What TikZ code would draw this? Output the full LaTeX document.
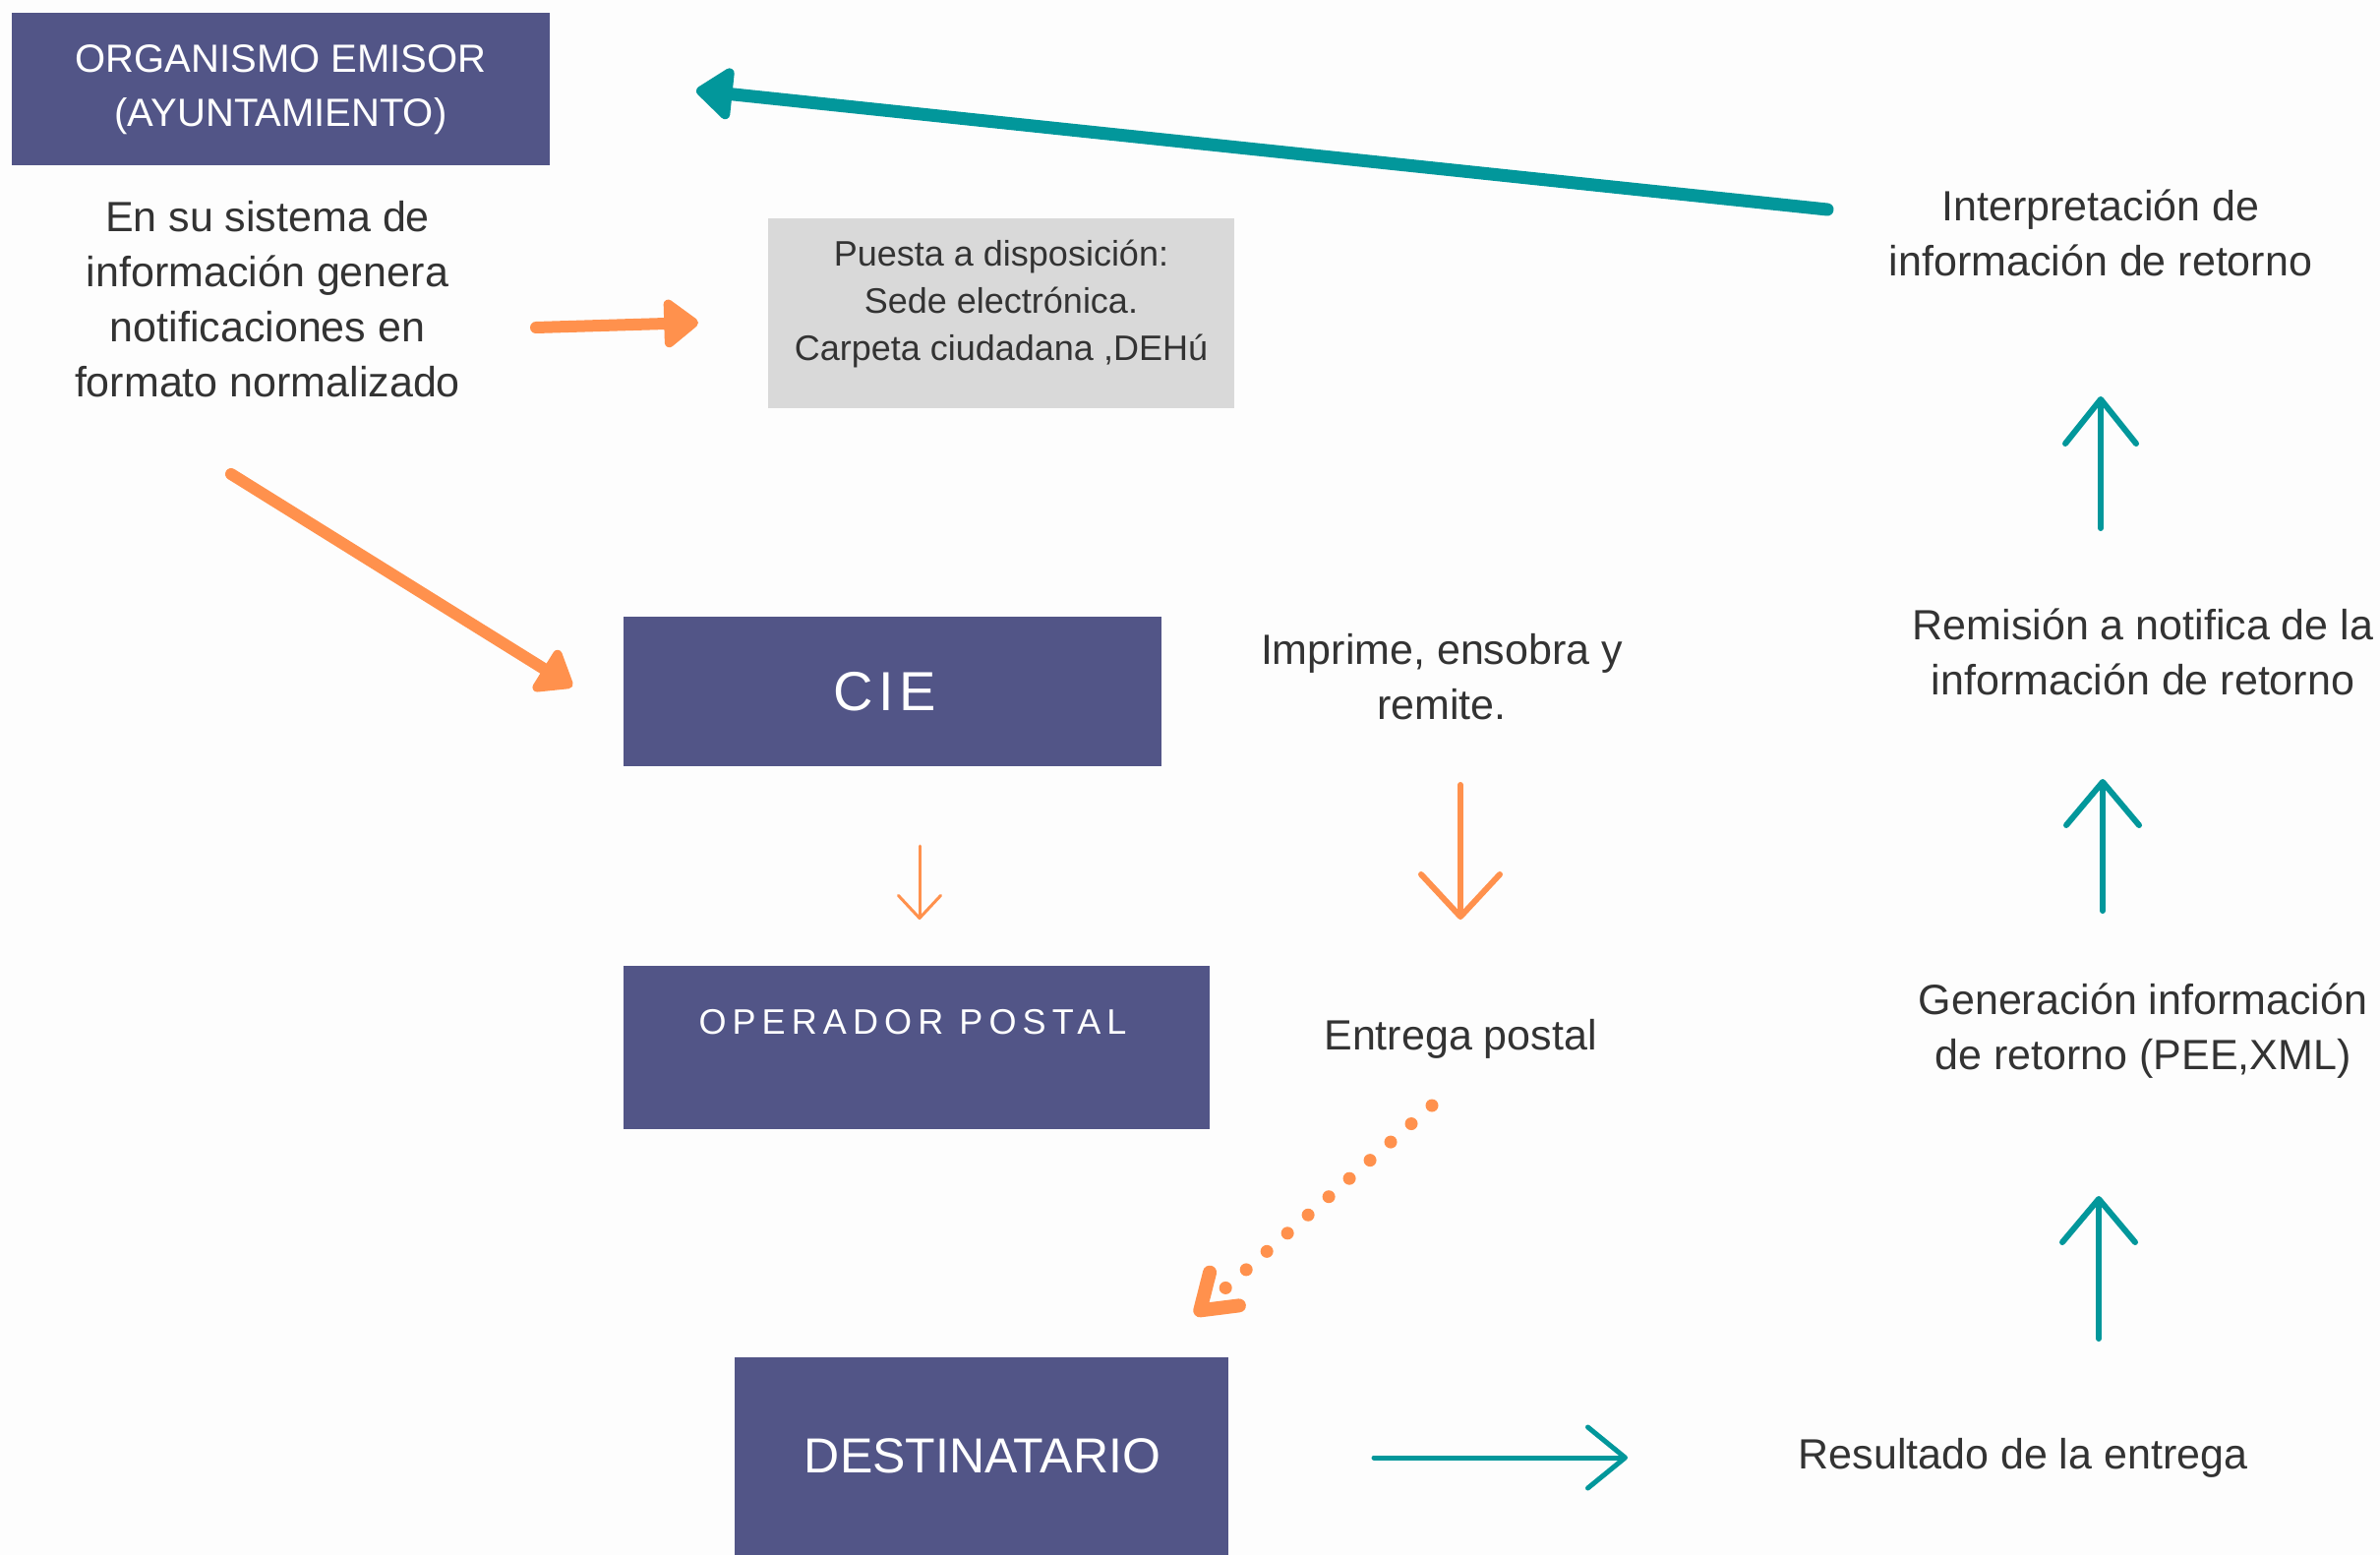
\documentclass[tikz,border=0pt]{standalone}
\usepackage{fontspec}
\setmainfont{Liberation Sans}
\newfontfamily\spacedfont{Liberation Sans}[LetterSpace=17]
\newfontfamily\ciefont{Liberation Sans}[LetterSpace=10]
\usetikzlibrary{arrows.meta}
\definecolor{boxblue}{HTML}{525587}
\definecolor{teal1}{HTML}{02979B}
\definecolor{orange1}{HTML}{FF914D}
\definecolor{graybox}{HTML}{D9D9D9}
\definecolor{txt}{HTML}{333333}
\definecolor{bg}{HTML}{FDFDFD}
\tikzset{
  bluebox/.style={fill=boxblue, text=white, inner sep=0pt},
  bodytext/.style={text=txt, align=center, inner sep=0pt, font=\fontsize{43}{56}\selectfont},
  bigtri/.style={line width=13pt, line cap=round, -{Triangle[length=40pt,width=60pt,round]}},
  orangetri/.style={orange1, line width=12pt, line cap=round, -{Triangle[length=38pt,width=56pt,round]}},
  barb/.style={line cap=round, -{Straight Barb[length=#1,round]}},
}
\begin{document}
\begin{tikzpicture}[x=1pt,y=-1pt]
\fill[bg] (0,0) rectangle (2420,1581);
\useasboundingbox (0,0) rectangle (2420,1581);

% boxes
\node[bluebox, minimum width=547pt, minimum height=155pt, align=center,
  font=\fontsize{40}{55}\selectfont] (org) at (285.5,91) {ORGANISMO EMISOR\\(AYUNTAMIENTO)};
\node[fill=graybox, minimum width=474pt, minimum height=193pt, inner sep=0pt] (gray) at (1018,318.5) {};
\node[text=txt, align=center, inner sep=0pt, font=\fontsize{36}{48}\selectfont] (graytxt) at (1018,309)
  {Puesta a disposición:\\Sede electrónica.\\Carpeta ciudadana ,DEHú};
\node[bluebox, minimum width=547pt, minimum height=152pt] (cie) at (907.5,703) {};
\node[text=white, inner sep=0pt, font=\ciefont\fontsize{56}{60}\selectfont] (cietxt) at (900,703) {CIE};
\node[bluebox, minimum width=596pt, minimum height=166pt] (op) at (932,1065) {};
\node[text=white, inner sep=0pt, font=\spacedfont\fontsize{36}{40}\selectfont] (optxt) at (928,1039) {OPERADOR POSTAL};
\node[bluebox, minimum width=502pt, minimum height=201pt] (dest) at (998,1480.5) {};
\node[text=white, inner sep=0pt, font=\fontsize{50}{55}\selectfont] (desttxt) at (999,1480) {DESTINATARIO};

% texts
\node[bodytext] (sist) at (272,304) {En su sistema de\\información genera\\notificaciones en\\formato normalizado};
\node[bodytext] (interp) at (2136,237) {Interpretación de\\información de retorno};
\node[bodytext] (remis) at (2179,663) {Remisión a notifica de la\\información de retorno};
\node[bodytext] (gener) at (2179,1048) {Generación información\\de retorno (PEE,XML)};
\node[bodytext] (result) at (2057,1482) {Resultado de la entrega};
\node[bodytext] (impr) at (1466,688) {Imprime, ensobra y\\remite.};
\node[bodytext] (entr) at (1485,1056) {Entrega postal};

% connector end points
\coordinate (tA1) at (1858,213); \coordinate (tA2) at (708,92);
\coordinate (oA1) at (545,333); \coordinate (oA2) at (710,328);
\coordinate (oB1) at (235,482); \coordinate (oB2) at (582,698);
\coordinate (oC1) at (935,860); \coordinate (oC2) at (935,935);
\coordinate (oD1) at (1485,798); \coordinate (oD2) at (1485,935);
\coordinate (oE1) at (1456,1124); \coordinate (oE2) at (1215,1337);
\coordinate (tB1) at (1397,1482); \coordinate (tB2) at (1655,1482);
\coordinate (tC1) at (2134,1361); \coordinate (tC2) at (2134,1216);
\coordinate (tD1) at (2138,926); \coordinate (tD2) at (2138,792);
\coordinate (tE1) at (2136,537); \coordinate (tE2) at (2136,403);

% connectors
\draw[teal1, bigtri] (tA1) -- (tA2);
\draw[orangetri] (oA1) -- (oA2);
\draw[orangetri] (oB1) -- (oB2);
\draw[orange1, line width=3pt, barb={23pt,width=43pt}] (oC1) -- (oC2);
\draw[orange1, line width=6pt, barb={43pt,width=80pt}] (oD1) -- (oD2);
\draw[orange1, line width=13pt, line cap=round, dash pattern=on 0pt off 28pt,
  -{Straight Barb[length=33pt,width=45pt,round,line width=14pt]}] (oE1) -- (oE2);
\draw[teal1, line width=5pt, barb={38pt,width=62pt}] (tB1) -- (tB2);
\draw[teal1, line width=6pt, barb={44pt,width=74pt}] (tC1) -- (tC2);
\draw[teal1, line width=6pt, barb={44pt,width=74pt}] (tD1) -- (tD2);
\draw[teal1, line width=6pt, barb={45pt,width=72pt}] (tE1) -- (tE2);
\end{tikzpicture}
\end{document}
